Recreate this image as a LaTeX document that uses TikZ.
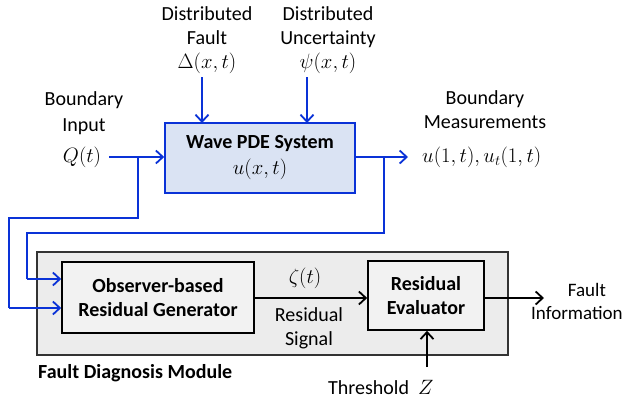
\documentclass[tikz,border=0pt]{standalone}
\usepackage{fontspec}
\setmainfont{Carlito}
\usetikzlibrary{arrows.meta}
\definecolor{sysblue}{RGB}{10,50,215}
\definecolor{sysfill}{RGB}{218,227,243}
\definecolor{modfill}{RGB}{236,236,236}
\definecolor{boxfill}{RGB}{242,242,242}
\newcommand{\pdemath}[1]{{\fontsize{22.5}{24}\selectfont$#1$}}
\tikzset{
  sig/.style={line width=1.8pt, -{Straight Barb[length=7pt,width=13pt,line width=1.8pt]}},
  bsig/.style={sig, sysblue},
  wire/.style={line width=1.8pt, sysblue},
  txt/.style={align=center, font=\fontsize{20}{24}\selectfont, inner sep=0pt},
  blk/.style={draw, line width=1.6pt, align=center, inner sep=0pt, font=\fontsize{20}{24}\selectfont\bfseries}
}
\begin{document}
\begin{tikzpicture}[x=1pt,y=-1pt]
\useasboundingbox (0,0) rectangle (624,405);
% plant
\node[blk, draw=sysblue, fill=sysfill, minimum width=190pt, minimum height=70pt] (wave) at (260,158)
  {Wave PDE System\\[2pt] \mdseries\pdemath{u(x,t)}};
\node[txt] (fault) at (207,40) {Distributed\\Fault\\\pdemath{\Delta(x,t)}};
\node[txt] (unc) at (328,40) {Distributed\\Uncertainty\\\pdemath{\psi(x,t)}};
\node[txt] (inlab) at (84,113) {Boundary\\[2pt]Input};
\node[txt] (qin) at (82,157) {\pdemath{Q(t)}};
\node[txt] (outlab) at (485,110) {Boundary\\Measurements};
\node[txt, anchor=west] (meas) at (422,157) {\pdemath{u(1,t),u_t(1,t)}};
\draw[bsig] (202,77) -- (202,123);
\draw[bsig] (307,77) -- (307,123);
\draw[bsig] (qin.east) ++(8pt,0) -- (wave.west |- qin);
\draw[bsig] (wave.east |- qin) -- (408,157);
% diagnosis module
\node[draw=black!80, line width=2pt, fill=modfill, minimum width=471pt, minimum height=103pt] (fdm) at (272.5,303.5) {};
\node[blk, fill=boxfill, minimum width=192pt, minimum height=71pt] (obs) at (158,297.5)
  {Observer-based\\Residual Generator};
\node[blk, fill=boxfill, minimum width=116pt, minimum height=69pt] (eval) at (426,295.5)
  {Residual\\Evaluator};
\node[txt, font=\fontsize{20}{24}\selectfont\bfseries, anchor=west] (fdmlab) at (38,373) {Fault Diagnosis Module};
\node[txt] (zeta) at (305,278) {\pdemath{\zeta(t)}};
\node[txt] (rslab) at (309,328) {Residual\\Signal};
\node[txt, font=\fontsize{19}{23}\selectfont, anchor=west] (info) at (531,301) {\hspace*{20pt}Fault\\Information};
\node[txt, anchor=west] (thr) at (328,387) {Threshold\ \ \pdemath{Z}};
\coordinate (b1) at (138,157);
\coordinate (b2) at (384,157);
\draw[wire] (b1) -- (138,218) -- (9,218) -- (9,308);
\draw[bsig] (9,308) -- (obs.west |- 0,308);
\draw[wire] (b2) -- (384,233) -- (27,233) -- (27,279);
\draw[bsig] (27,279) -- (obs.west |- 0,279);
\draw[sig] (obs.east |- 0,298) -- (eval.west |- 0,298);
\draw[sig] (eval.east |- 0,298) -- (544,298);
\draw[sig] (427,367) -- (eval.south -| 427,0);
\end{tikzpicture}
\end{document}
